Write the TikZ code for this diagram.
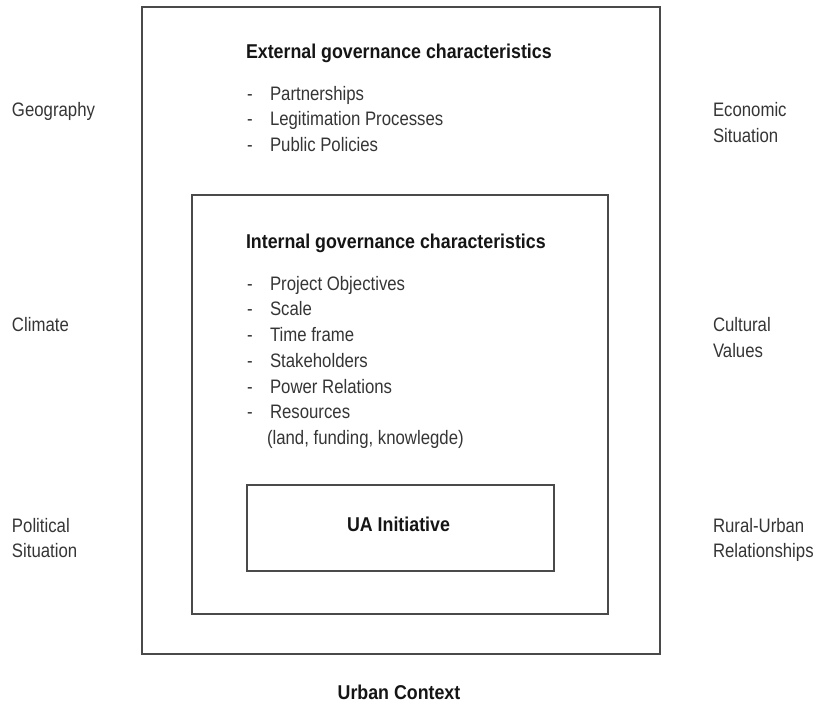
\documentclass[tikz,border=0pt]{standalone}
\usepackage{fontspec}
\setmainfont{Liberation Sans}[FakeStretch=0.86]
\newfontfamily\bdfont{Liberation Sans}[FakeStretch=0.89]
\definecolor{linegray}{HTML}{4A4A4A}
\definecolor{textgray}{HTML}{353535}
\definecolor{headgray}{HTML}{151515}
\begin{document}
\begin{tikzpicture}[x=1pt,y=-1pt,
  box/.style={draw=linegray, line width=1.5pt, inner sep=0pt, outer sep=0pt},
  txt/.style={anchor=base west, inner sep=0pt, outer sep=0pt, font=\fontsize{19.5}{24}\selectfont, text=textgray},
  hd/.style={anchor=base west, inner sep=0pt, outer sep=0pt, font=\bdfont\bfseries\fontsize{20}{24}\selectfont, text=headgray},
  hdc/.style={hd, anchor=base}]
\useasboundingbox (0,0) rectangle (814,704);
% boxes
\node[box, minimum width=518pt, minimum height=647pt] (outer) at (401,330.5) {};
\node[box, minimum width=416pt, minimum height=419pt] (inner) at (400,404.5) {};
\node[box, minimum width=307pt, minimum height=86pt] (ua) at (400.5,528) {};
% external
\node[hd] (exth) at (246,58) {External governance characteristics};
\foreach \t [count=\i] in {Partnerships, Legitimation Processes, Public Policies}{
  \node[txt] (extd\i) at (247,{100+25.6*(\i-1)}) {-};
  \node[txt] (ext\i) at (270,{100+25.6*(\i-1)}) {\t};
}
% internal
\node[hd] (inth) at (246,248) {Internal governance characteristics};
\foreach \t [count=\i] in {Project Objectives, Scale, Time frame, Stakeholders, Power Relations, Resources}{
  \node[txt] (intd\i) at (247,{290+25.75*(\i-1)}) {-};
  \node[txt] (int\i) at (270,{290+25.75*(\i-1)}) {\t};
}
\node[txt] (int7) at (267,444) {(land, funding, knowlegde)};
% UA
\node[hdc] (ualbl) at (398.5,531) {UA Initiative};
\node[hdc] (urban) at (399,699) {Urban Context};
% left
\node[txt] (geo) at (12,116.5) {Geography};
\node[txt] (clim) at (12,331.5) {Climate};
\node[txt] (pol1) at (12,532) {Political};
\node[txt] (pol2) at (12,557.5) {Situation};
% right
\node[txt] (eco1) at (713,116.5) {Economic};
\node[txt] (eco2) at (713,142) {Situation};
\node[txt] (cul1) at (713,331.5) {Cultural};
\node[txt] (cul2) at (713,357) {Values};
\node[txt] (rur1) at (713,532) {Rural-Urban};
\node[txt] (rur2) at (713,557.5) {Relationships};
\end{tikzpicture}
\end{document}
